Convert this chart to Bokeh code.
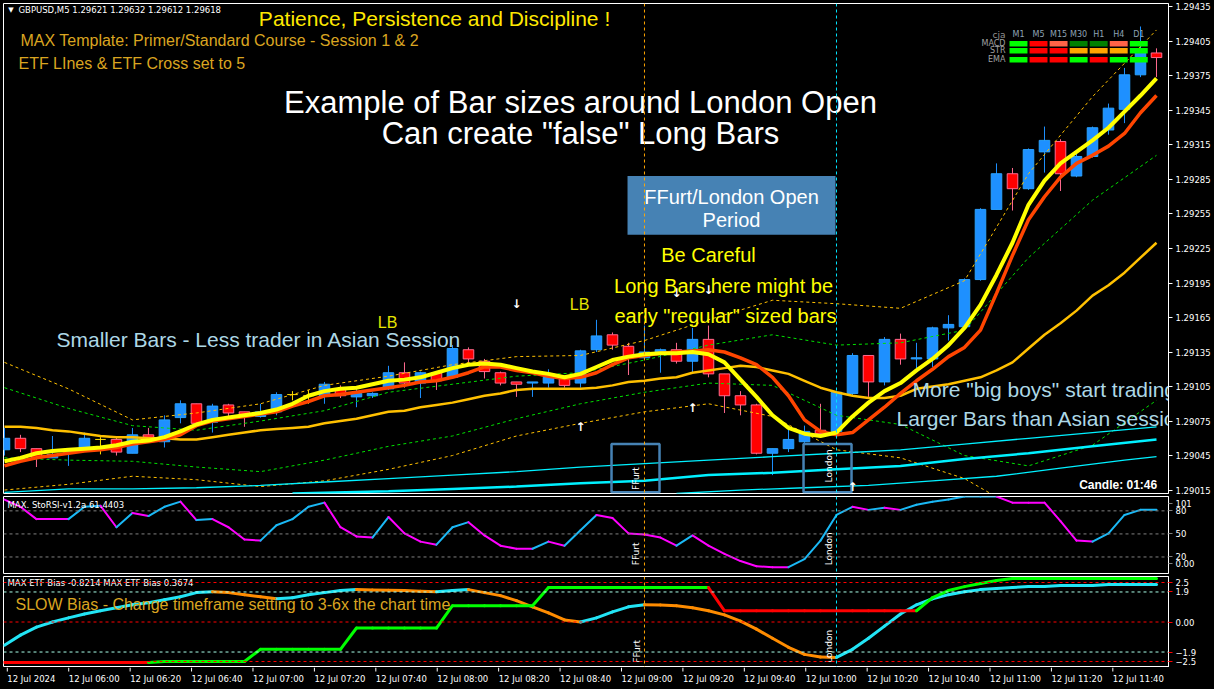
import numpy as np
from bokeh.plotting import figure
from bokeh.layouts import column
from bokeh.models import Range1d, FixedTicker, PrintfTickFormatter, Span, GlobalInlineStyleSheet
from bokeh.core.properties import value
from bokeh.embed import file_html
from bokeh.resources import INLINE

# ---------------- data ----------------
symbol_header = "GBPUSD,M5  1.29621 1.29632 1.29612 1.29618"
time_label_bars = [0, 4, 8, 12, 16, 20, 24, 28, 32, 36, 40, 44, 48, 52, 56, 60, 64, 68, 72]
time_labels = ["12 Jul 2024", "12 Jul 06:00", "12 Jul 06:20", "12 Jul 06:40", "12 Jul 07:00",
               "12 Jul 07:20", "12 Jul 07:40", "12 Jul 08:00", "12 Jul 08:20", "12 Jul 08:40",
               "12 Jul 09:00", "12 Jul 09:20", "12 Jul 09:40", "12 Jul 10:00", "12 Jul 10:20",
               "12 Jul 10:40", "12 Jul 11:00", "12 Jul 11:20", "12 Jul 11:40"]
price_ticks = [1.29015, 1.29045, 1.29075, 1.29105, 1.29135, 1.29165, 1.29195, 1.29225,
               1.29255, 1.29285, 1.29315, 1.29345, 1.29375, 1.29405, 1.29435]

opens = [1.29050, 1.29060, 1.29051, 1.29043, 1.29048, 1.29050, 1.29059, 1.29059, 1.29047, 1.29063,
         1.29057, 1.29078, 1.29090, 1.29074, 1.29089, 1.29083, 1.29079, 1.29083, 1.29098, 1.29097,
         1.29097, 1.29103, 1.29096, 1.29097, 1.29103, 1.29117, 1.29108, 1.29117, 1.29113, 1.29137,
         1.29127, 1.29117, 1.29109, 1.29108, 1.29108, 1.29114, 1.29108, 1.29137, 1.29150, 1.29140,
         1.29130, 1.29134, 1.29137, 1.29127, 1.29146, 1.29116, 1.29097, 1.29089, 1.29047, 1.29051,
         1.29057, 1.29067, 1.29066, 1.29099, 1.29132, 1.29109, 1.29146, 1.29129, 1.29129, 1.29156,
         1.29157, 1.29198, 1.29259, 1.29290, 1.29277, 1.29309, 1.29318, 1.29288, 1.29305, 1.29328,
         1.29346, 1.29376, 1.29395]
highs = [1.29069, 1.29063, 1.29051, 1.29062, 1.29051, 1.29065, 1.29061, 1.29061, 1.29069, 1.29069,
         1.29080, 1.29093, 1.29090, 1.29090, 1.29090, 1.29083, 1.29090, 1.29100, 1.29101, 1.29102,
         1.29109, 1.29106, 1.29104, 1.29100, 1.29123, 1.29126, 1.29118, 1.29117, 1.29141, 1.29139,
         1.29129, 1.29118, 1.29109, 1.29109, 1.29120, 1.29114, 1.29137, 1.29163, 1.29152, 1.29143,
         1.29158, 1.29138, 1.29143, 1.29156, 1.29158, 1.29116, 1.29101, 1.29090, 1.29051, 1.29071,
         1.29071, 1.29090, 1.29100, 1.29134, 1.29132, 1.29148, 1.29151, 1.29143, 1.29157, 1.29167,
         1.29199, 1.29260, 1.29299, 1.29295, 1.29312, 1.29331, 1.29320, 1.29308, 1.29331, 1.29351,
         1.29382, 1.29418, 1.29399]
lows = [1.29045, 1.29048, 1.29035, 1.29043, 1.29036, 1.29050, 1.29046, 1.29045, 1.29047, 1.29060,
        1.29052, 1.29073, 1.29071, 1.29065, 1.29078, 1.29070, 1.29078, 1.29080, 1.29093, 1.29090,
        1.29090, 1.29095, 1.29087, 1.29095, 1.29102, 1.29104, 1.29095, 1.29102, 1.29112, 1.29125,
        1.29112, 1.29106, 1.29096, 1.29096, 1.29104, 1.29104, 1.29104, 1.29135, 1.29137, 1.29115,
        1.29129, 1.29117, 1.29125, 1.29117, 1.29113, 1.29082, 1.29080, 1.29046, 1.29028, 1.29048,
        1.29056, 1.29064, 1.29060, 1.29097, 1.29096, 1.29106, 1.29124, 1.29121, 1.29122, 1.29145,
        1.29156, 1.29197, 1.29259, 1.29258, 1.29276, 1.29291, 1.29275, 1.29287, 1.29304, 1.29324,
        1.29334, 1.29374, 1.29374]
closes = [1.29060, 1.29051, 1.29043, 1.29046, 1.29050, 1.29060, 1.29059, 1.29048, 1.29063, 1.29061,
          1.29076, 1.29090, 1.29073, 1.29088, 1.29082, 1.29081, 1.29083, 1.29098, 1.29098, 1.29097,
          1.29107, 1.29097, 1.29099, 1.29099, 1.29117, 1.29108, 1.29117, 1.29110, 1.29138, 1.29129,
          1.29118, 1.29108, 1.29107, 1.29109, 1.29113, 1.29106, 1.29136, 1.29149, 1.29141, 1.29130,
          1.29135, 1.29137, 1.29127, 1.29146, 1.29116, 1.29097, 1.29089, 1.29047, 1.29051, 1.29059,
          1.29066, 1.29064, 1.29100, 1.29132, 1.29109, 1.29146, 1.29129, 1.29130, 1.29156, 1.29159,
          1.29198, 1.29259, 1.29290, 1.29277, 1.29311, 1.29319, 1.29290, 1.29305, 1.29330, 1.29347,
          1.29376, 1.29398, 1.29391]

etf_fast = [1.29040, 1.29043, 1.29047, 1.29049, 1.29050, 1.29051, 1.29052, 1.29054, 1.29057, 1.29058,
            1.29061, 1.29066, 1.29072, 1.29076, 1.29078, 1.29080, 1.29082, 1.29085, 1.29090, 1.29097,
            1.29101, 1.29103, 1.29104, 1.29107, 1.29110, 1.29111, 1.29113, 1.29117, 1.29121, 1.29124,
            1.29125, 1.29124, 1.29121, 1.29118, 1.29116, 1.29113, 1.29116, 1.29122, 1.29128, 1.29131,
            1.29133, 1.29134, 1.29134, 1.29135, 1.29133, 1.29126, 1.29111, 1.29096, 1.29080, 1.29069,
            1.29064, 1.29062, 1.29065, 1.29079, 1.29091, 1.29101, 1.29108, 1.29119, 1.29129, 1.29141,
            1.29156, 1.29176, 1.29202, 1.29230, 1.29263, 1.29284, 1.29299, 1.29309, 1.29319, 1.29330,
            1.29344, 1.29358, 1.29373]
etf_slow = [1.29036, 1.29040, 1.29043, 1.29045, 1.29047, 1.29049, 1.29050, 1.29052, 1.29055, 1.29057,
            1.29059, 1.29063, 1.29071, 1.29075, 1.29077, 1.29079, 1.29081, 1.29083, 1.29088, 1.29092,
            1.29097, 1.29098, 1.29100, 1.29102, 1.29104, 1.29106, 1.29109, 1.29110, 1.29113, 1.29117,
            1.29122, 1.29122, 1.29119, 1.29117, 1.29114, 1.29112, 1.29113, 1.29117, 1.29124, 1.29130,
            1.29132, 1.29134, 1.29135, 1.29136, 1.29137, 1.29135, 1.29130, 1.29124, 1.29113, 1.29097,
            1.29076, 1.29066, 1.29063, 1.29065, 1.29076, 1.29087, 1.29099, 1.29110, 1.29120, 1.29131,
            1.29139, 1.29154, 1.29186, 1.29219, 1.29250, 1.29270, 1.29287, 1.29299, 1.29306, 1.29314,
            1.29325, 1.29343, 1.29358]
ma_trend = [1.29070, 1.29070, 1.29069, 1.29067, 1.29066, 1.29064, 1.29062, 1.29061, 1.29061, 1.29060,
            1.29060, 1.29059, 1.29059, 1.29061, 1.29063, 1.29065, 1.29067, 1.29068, 1.29069, 1.29070,
            1.29073, 1.29075, 1.29077, 1.29080, 1.29083, 1.29084, 1.29087, 1.29089, 1.29091, 1.29094,
            1.29097, 1.29099, 1.29102, 1.29103, 1.29103, 1.29103, 1.29103, 1.29104, 1.29106, 1.29109,
            1.29110, 1.29112, 1.29113, 1.29117, 1.29119, 1.29121, 1.29123, 1.29122, 1.29119, 1.29116,
            1.29110, 1.29104, 1.29100, 1.29097, 1.29095, 1.29095, 1.29097, 1.29103, 1.29105, 1.29107,
            1.29110, 1.29113, 1.29119, 1.29126, 1.29138, 1.29150, 1.29160, 1.29171, 1.29184, 1.29193,
            1.29204, 1.29217, 1.29230]

env_bars = [0, 4, 8, 12, 16, 20, 24, 28, 32, 36, 40, 44, 48, 52, 56, 60, 64, 68, 72]
env_gold_upper = [1.29126, 1.29103, 1.29076, 1.29082, 1.29090, 1.29106, 1.29114, 1.29124, 1.29131, 1.29132,
                  1.29145, 1.29163, 1.29180, 1.29177, 1.29173, 1.29197, 1.29290, 1.29357, 1.29415]
env_gold_lower = [1.29015, 1.29020, 1.29027, 1.29024, 1.29018, 1.29023, 1.29033, 1.29045, 1.29062, 1.29073,
                  1.29083, 1.29090, 1.29079, 1.29050, 1.29043, 1.29025, 1.28993, 1.28980, 1.28980]
env_green_upper = [1.29104, 1.29086, 1.29071, 1.29067, 1.29075, 1.29084, 1.29100, 1.29107, 1.29114, 1.29117,
                   1.29128, 1.29141, 1.29150, 1.29141, 1.29143, 1.29154, 1.29217, 1.29267, 1.29306]
env_green_lower = [1.29043, 1.29041, 1.29040, 1.29035, 1.29031, 1.29041, 1.29053, 1.29062, 1.29077, 1.29090,
                   1.29100, 1.29108, 1.29106, 1.29080, 1.29072, 1.29045, 1.29036, 1.29054, 1.29093]

cyan_a_bars = [0, 4, 8, 12, 16, 20, 24, 28, 32, 36, 40, 44, 48, 52, 56, 60, 64, 68, 72]
cyan_a = [1.29013, 1.29016, 1.29016, 1.29017, 1.29019, 1.29022, 1.29025, 1.29028, 1.29031, 1.29035,
          1.29038, 1.29041, 1.29044, 1.29047, 1.29050, 1.29055, 1.29060, 1.29065, 1.29070]
cyan_b_bars = [18, 24, 28, 32, 36, 40, 44, 48, 52, 56, 60, 64, 68, 72]
cyan_b = [1.29012, 1.29014, 1.29016, 1.29018, 1.29021, 1.29023, 1.29028, 1.29030, 1.29033, 1.29036,
          1.29042, 1.29047, 1.29053, 1.29059]
cyan_c_bars = [42, 46, 50, 54, 58, 62, 66, 70, 72]
cyan_c = [1.29012, 1.29015, 1.29017, 1.29019, 1.29023, 1.29027, 1.29034, 1.29041, 1.29044]

up_arrow_bars = [36, 43, 53]
up_arrow_prices = [1.29070, 1.29086, 1.29018]
down_arrow_bars = [32, 42, 44]
down_arrow_prices = [1.29177, 1.29186, 1.29189]

stoch_values = [94.7, 85.3, 69.3, 69.3, 69.3, 85.3, 86.7, 58.7, 77.3, 73.3,
                85.3, 92.0, 68.0, 69.3, 58.7, 42.7, 41.3, 61.3, 69.3, 85.3,
                90.7, 58.7, 46.7, 45.3, 72.0, 50.7, 40.0, 36.0, 58.7, 65.3,
                48.0, 34.7, 30.7, 30.7, 40.0, 34.7, 54.7, 74.7, 70.7, 50.7,
                49.3, 45.3, 34.7, 48.0, 34.7, 24.0, 14.7, 8.0, 6.7, 6.7,
                17.3, 41.3, 74.7, 85.3, 81.3, 84.0, 81.3, 88.0, 92.0, 94.7,
                98.7, 98.7, 98.7, 90.7, 90.7, 90.7, 66.7, 41.3, 40.0, 50.7,
                74.7, 81.3, 81.3]
stoch_levels = [20, 50, 80]

bias_slow = [-1.47, -0.83, -0.32, 0.00, 0.26, 0.51, 0.71, 0.90, 1.09, 1.22,
             1.41, 1.60, 1.86, 1.92, 1.86, 1.73, 1.60, 1.47, 1.54, 1.73,
             1.86, 1.99, 2.05, 2.03, 2.01, 1.99, 1.95, 1.92, 1.99, 2.05,
             1.86, 1.67, 1.35, 0.96, 0.58, 0.13, 0.00, 0.26, 0.64, 0.96,
             1.09, 1.08, 1.03, 0.90, 0.71, 0.45, 0.06, -0.45, -1.03, -1.60,
             -2.05, -2.22, -2.24, -1.73, -1.03, -0.26, 0.51, 1.09, 1.47, 1.73,
             1.92, 2.05, 2.12, 2.18, 2.24, 2.24, 2.31, 2.31, 2.31, 2.37,
             2.37, 2.37, 2.37]
bias_fast = [-2.56, -2.56, -2.56, -2.56, -2.56, -2.56, -2.56, -2.56, -2.56, -2.56,
             -2.50, -2.50, -2.50, -2.50, -2.50, -2.50, -1.73, -1.73, -1.73, -1.73,
             -1.73, -1.73, -0.38, -0.38, -0.38, -0.38, -0.38, -0.38, 1.03, 1.03,
             1.03, 1.03, 1.03, 1.03, 2.18, 2.18, 2.18, 2.18, 2.18, 2.18,
             2.18, 2.18, 2.18, 2.18, 2.18, 0.71, 0.71, 0.71, 0.71, 0.71,
             0.71, 0.71, 0.71, 0.71, 0.71, 0.71, 0.71, 0.71, 1.54, 1.99,
             2.24, 2.44, 2.63, 2.76, 2.76, 2.76, 2.76, 2.76, 2.76, 2.76,
             2.76, 2.76, 2.76]
bias_fast_up = [0, 0, 0, 0, 0, 0, 0, 0, 0, 0,
                1, 1, 1, 1, 1, 1, 1, 1, 1, 1,
                1, 1, 1, 1, 1, 1, 1, 1, 1, 1,
                1, 1, 1, 1, 1, 1, 1, 1, 1, 1,
                1, 1, 1, 1, 1, 0, 0, 0, 0, 0,
                0, 0, 0, 0, 0, 0, 0, 0, 1, 1,
                1, 1, 1, 1, 1, 1, 1, 1, 1, 1,
                1, 1, 1]
bias_levels_red = [2.5, 0.0, -2.5]
bias_levels_aqua = [1.9, -1.9]

session_bars = {"FFurt": 40, "London": 52}

mtf_periods = ["M1", "M5", "M15", "M30", "H1", "H4", "D1"]
mtf_rows = ["MACD", "STR", "EMA"]
mtf_macd = ["#00FF00", "#FF0000", "#FF6347", "#008000", "#008000", "#FF6347", "#00FF00"]
mtf_str = ["#00FF00", "#FF0000", "#FF0000", "#FFA500", "#FFA500", "#FFA500", "#00FF00"]
mtf_ema = ["#00FF00", "#FF0000", "#FF0000", "#00FF00", "#FF0000", "#00FF00", "#00FF00"]

# ---------------- helpers ----------------
ARIAL = value("Liberation Sans")
TAHOMA = value("DejaVu Sans")
W = 1214
BORDER_L, BORDER_R = 3, 46
X0, X1 = -0.06, 72.75
xr = Range1d(X0, X1)


def make_fig(h, yr, top, bottom):
    p = figure(width=W, height=h, x_range=xr, y_range=yr, output_backend="svg",
               toolbar_location=None, y_axis_location="right", x_axis_location=None,
               min_border_left=BORDER_L, min_border_right=BORDER_R, min_border_top=top, min_border_bottom=bottom,
               background_fill_color="black", border_fill_color="black",
               outline_line_color="white", outline_line_width=1)
    p.grid.visible = False
    ax = p.yaxis[0]
    ax.axis_line_color = "white"
    ax.major_tick_line_color = "white"
    ax.major_tick_out = 4
    ax.major_tick_in = 0
    ax.minor_tick_line_color = None
    ax.major_label_text_color = "white"
    ax.major_label_text_font = "DejaVu Sans"
    ax.major_label_text_font_size = "8.5px"
    ax.major_label_standoff = 3
    return p


def txt(p, x, y, s, color, size, align="left", font=ARIAL, angle=0.0, style="normal"):
    p.text(x=[x], y=[y], text=[s], text_color=color, text_font_size=f"{size}px",
           text_align=align, text_baseline="middle", text_font=font, angle=angle,
           text_font_style=style)


def colored_segments(p, xs, ys, up_col, dn_col, width):
    xs = np.asarray(xs, dtype=float)
    ys = np.asarray(ys, dtype=float)
    cols = []
    prev = up_col
    for i in range(1, len(ys)):
        if ys[i] > ys[i - 1]:
            prev = up_col
        elif ys[i] < ys[i - 1]:
            prev = dn_col
        cols.append(prev)
    p.segment(x0=xs[:-1], y0=ys[:-1], x1=xs[1:], y1=ys[1:], color=cols,
              line_width=width, line_cap="round")


def session_lines(p):
    for name, b in session_bars.items():
        col = "#FFA500" if name == "FFurt" else "#00E5FF"
        p.add_layout(Span(location=b, dimension="height", line_color=col, line_dash="3 3", line_width=1))


bars = np.arange(len(opens))
o = np.array(opens); hi = np.array(highs); lo = np.array(lows); c = np.array(closes)
up = c > o
dn = c < o
dj = c == o

# ---------------- main chart ----------------
p1 = make_fig(496, Range1d(1.29012, 1.29438), top=3, bottom=3)
p1.yaxis.ticker = FixedTicker(ticks=price_ticks)
p1.yaxis.formatter = PrintfTickFormatter(format="%.5f")
session_lines(p1)

# candles
p1.segment(bars[up], hi[up], bars[up], lo[up], color="#1E90FF", line_width=1)
p1.vbar(x=bars[up], width=0.66, top=c[up], bottom=o[up], fill_color="#1E90FF", line_color="#2AA2FF")
p1.segment(bars[dn], hi[dn], bars[dn], lo[dn], color="#FF6A8E", line_width=1)
p1.vbar(x=bars[dn], width=0.66, top=o[dn], bottom=c[dn], fill_color="#FF0000", line_color="#FF6A8E")
p1.segment(bars[dj], hi[dj], bars[dj], lo[dj], color="#FFE000", line_width=1)
p1.segment(bars[dj] - 0.33, o[dj], bars[dj] + 0.33, o[dj], color="#FFE000", line_width=1)

# envelopes
p1.line(env_bars, env_gold_upper, color="#FFC000", line_width=1, line_dash="3 3")
p1.line(env_bars, env_gold_lower, color="#FFC000", line_width=1, line_dash="3 3")
p1.line(env_bars, env_green_upper, color="#00E000", line_width=1, line_dash="3 3")
p1.line(env_bars, env_green_lower, color="#00E000", line_width=1, line_dash="3 3")

# cyan slow lines
p1.line(cyan_a_bars, cyan_a, color="#00F0FF", line_width=1.3)
p1.line(cyan_b_bars, cyan_b, color="#00F0FF", line_width=2.5)
p1.line(cyan_c_bars, cyan_c, color="#00F0FF", line_width=1.3)

# moving averages
p1.line(bars, ma_trend, color="#FFC000", line_width=2.5)
p1.line(bars, etf_slow, color="#FF4500", line_width=3.5)
p1.line(bars, etf_fast, color="#FFFF00", line_width=4)

# session boxes
p1.quad(left=[37.94, 49.94], right=[40.94, 52.94], top=[1.29055, 1.29055], bottom=[1.29013, 1.29013],
        fill_alpha=0, line_color="#4682B4", line_width=2.5)
txt(p1, 39.5, 1.29025, "FFurt", "white", 9, align="center", font=TAHOMA, angle=np.pi / 2)
txt(p1, 51.56, 1.29036, "London", "white", 9, align="center", font=TAHOMA, angle=np.pi / 2)

# period box
p1.quad(left=[38.94], right=[51.94], top=[1.29288], bottom=[1.29237], fill_color="#4682B4", line_color=None)
txt(p1, 45.44, 1.29270, "FFurt/London Open", "white", 20, align="center")
txt(p1, 45.44, 1.29250, "Period", "white", 20, align="center")

# arrows
p1.text(x=up_arrow_bars, y=up_arrow_prices, text=["\u2191"] * len(up_arrow_bars), text_color="white",
        text_font_size="12px", text_font=TAHOMA, text_font_style="bold", text_align="center", text_baseline="middle")
p1.text(x=down_arrow_bars, y=down_arrow_prices, text=["\u2193"] * len(down_arrow_bars), text_color="white",
        text_font_size="12px", text_font=TAHOMA, text_font_style="bold", text_align="center", text_baseline="middle")

# texts
txt(p1, 0.4, 1.29432, "\u25BC", "white", 7, align="center", font=TAHOMA)
txt(p1, 0.875, 1.29432, symbol_header, "white", 8.5, font=TAHOMA)
txt(p1, 15.9, 1.29425, "Patience, Persistence and Discipline !", "#FFE800", 21)
txt(p1, 1.0, 1.29406, "MAX Template: Primer/Standard Course - Session 1 & 2", "#DAA520", 16)
txt(p1, 0.875, 1.29386, "ETF LInes & ETF Cross set to 5", "#DAA520", 16)
txt(p1, 36.0, 1.29352, "Example of Bar sizes around London Open", "white", 31, align="center")
txt(p1, 36.0, 1.29325, "Can create \"false\" Long Bars", "white", 31, align="center")
txt(p1, 44.0, 1.29219, "Be Careful", "#FFFF00", 20, align="center")
txt(p1, 44.94, 1.29192, "Long Bars here might be", "#FFFF00", 20, align="center")
txt(p1, 45.06, 1.29166, "early \"regular\" sized bars", "#FFFF00", 20, align="center")
txt(p1, 3.25, 1.29146, "Smaller Bars - Less trader in Asian Session", "#ADD8E6", 21)
txt(p1, 23.94, 1.29161, "LB", "#E6E600", 16, align="center")
txt(p1, 35.94, 1.29176, "LB", "#E6E600", 16, align="center")
txt(p1, 56.75, 1.29102, "More \"big boys\" start trading", "#ADD8E6", 21)
txt(p1, 55.75, 1.29077, "Larger Bars than Asian session", "#ADD8E6", 21)
txt(p1, 72.25, 1.29019, "Candle:  01:46", "white", 12, align="right", style="bold")

# MTF table
col_x = [63.375 + 1.253 * i for i in range(len(mtf_periods))]
row_y = [1.29403, 1.29397, 1.29389]
for ry, cols in zip(row_y, [mtf_macd, mtf_str, mtf_ema]):
    p1.rect(x=col_x, y=[ry] * len(col_x), width=1.12, height=0.000048, fill_color=cols, line_color=None)
p1.text(x=col_x, y=[1.29411] * len(col_x), text=mtf_periods, text_color="#8FA3B5", text_font_size="8px",
        text_font=TAHOMA, text_align="center", text_baseline="middle")
p1.text(x=[62.56] * len(mtf_rows), y=row_y, text=mtf_rows, text_color="#A0A0A0", text_font_size="8px",
        text_font=TAHOMA, text_align="right", text_baseline="middle")
txt(p1, 62.56, 1.29411, "cja", "#909090", 9, align="right", font=TAHOMA)

# ---------------- StoRSI panel ----------------
p2 = make_fig(79, Range1d(-1.5, 98.7), top=0, bottom=2)
p2.yaxis.ticker = FixedTicker(ticks=[12, 20, 50, 80, 89.5])
p2.yaxis.major_label_overrides = {12: "0.00", 89.5: "101"}
p2.yaxis.major_tick_line_color = "#808080"
for lv in stoch_levels:
    p2.add_layout(Span(location=lv, dimension="width", line_color="#808080", line_dash="3 3", line_width=1))
session_lines(p2)
colored_segments(p2, bars, stoch_values, "#1AB8F5", "#FF00FF", 2)
txt(p2, 0.19, 88, "MAX. StoRSI-v1.2a 61.4403", "white", 8.5, font=TAHOMA)
txt(p2, 39.5, 24, "FFurt", "white", 9, align="center", font=TAHOMA, angle=np.pi / 2)
txt(p2, 51.56, 30.7, "London", "white", 9, align="center", font=TAHOMA, angle=np.pi / 2)

# ---------------- ETF Bias panel ----------------
p3 = make_fig(92, Range1d(-2.88, 2.88), top=1, bottom=0)
p3.yaxis.ticker = FixedTicker(ticks=[-2.5, -1.9, 0.0, 1.9, 2.5])
p3.yaxis.major_label_overrides = {0.0: "0.00"}
p3.yaxis.major_tick_line_color = "#FF0000"
for lv in bias_levels_red:
    p3.add_layout(Span(location=lv, dimension="width", line_color="#FF0000", line_dash="3 3", line_width=1))
for lv in bias_levels_aqua:
    p3.add_layout(Span(location=lv, dimension="width", line_color="#A8FFE8", line_dash="3 3", line_width=1))
session_lines(p3)

colored_segments(p3, bars, bias_slow, "#22E4F5", "#FF8C00", 3)
fb = np.array(bias_fast)
fcols = ["#00FF00" if u else "#FF0000" for u in bias_fast_up[1:]]
p3.segment(x0=bars[:-1], y0=fb[:-1], x1=bars[1:], y1=fb[1:], color=fcols, line_width=3, line_cap="round")

txt(p3, 0.19, 2.44, "MAX ETF Bias -0.8214  MAX ETF Bias 0.3674", "white", 8.5, font=TAHOMA)
txt(p3, 0.69, 1.09, "SLOW Bias - Change timeframe setting to 3-6x the chart time", "#DAA520", 16)
txt(p3, 39.56, -1.86, "FFurt", "white", 9, align="center", font=TAHOMA, angle=np.pi / 2)
txt(p3, 51.56, -1.54, "London", "white", 9, align="center", font=TAHOMA, angle=np.pi / 2)

# ---------------- time axis strip (same bar scale as the panels) ----------------
frame_px = W - BORDER_L - BORDER_R
px_per_bar = frame_px / (X1 - X0)
strip_x0 = X0 - BORDER_L / px_per_bar
strip_x1 = strip_x0 + W / px_per_bar
p4 = figure(width=W, height=22, x_range=Range1d(strip_x0, strip_x1), y_range=Range1d(0, 22),
            output_backend="svg", toolbar_location=None, x_axis_location=None, y_axis_location=None,
            min_border_left=0, min_border_right=0, min_border_top=0, min_border_bottom=0,
            background_fill_color="black", border_fill_color="black", outline_line_color=None)
p4.grid.visible = False
p4.segment(x0=time_label_bars, y0=[22] * len(time_label_bars), x1=time_label_bars,
           y1=[18] * len(time_label_bars), color="white", line_width=1)
p4.text(x=time_label_bars, y=[11] * len(time_label_bars), text=time_labels, text_color="white",
        text_font_size="8.5px", text_font=TAHOMA, text_align="left", text_baseline="middle")

layout = column(p1, p2, p3, p4, spacing=0,
                stylesheets=[GlobalInlineStyleSheet(
                    css="html, body { margin: 0; padding: 0; overflow: hidden; background-color: #000000; }")])

open("out.html", "w").write(file_html(layout, INLINE))
